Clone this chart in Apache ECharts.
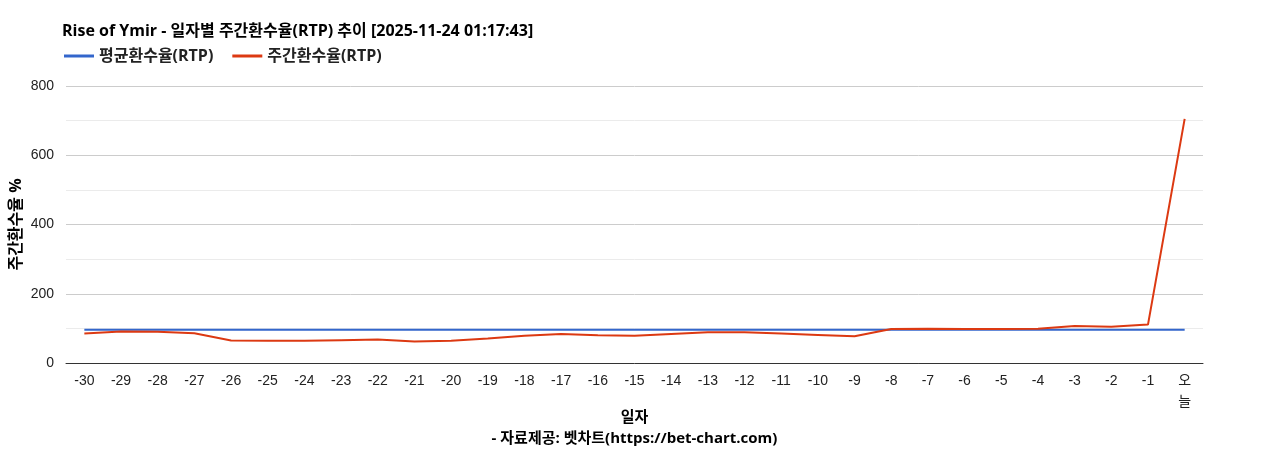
<!DOCTYPE html>
<html><head><meta charset="utf-8">
<script src="https://cdn.jsdelivr.net/npm/echarts@6/dist/echarts.min.js"></script>
<style>html,body{margin:0;padding:0;background:#fff}#c{width:1268px;height:450px}</style>
</head><body><div id="c"></div>
<script>
const categories = ['-30','-29','-28','-27','-26','-25','-24','-23','-22','-21','-20','-19','-18','-17','-16','-15','-14','-13','-12','-11','-10','-9','-8','-7','-6','-5','-4','-3','-2','-1','오\n늘'];
const avgRtp = [96,96,96,96,96,96,96,96,96,96,96,96,96,96,96,96,96,96,96,96,96,96,96,96,96,96,96,96,96,96,96];
const weeklyRtp = [85,91,90,86,65,64,64,66,68,62,64,71,79,84,80,79,84,89,89,85,81,77,98,99,98,98,99,107,105,111,705];
const yTicks = [0,200,400,600,800];
const boldFont = '"Open Sans", "Noto Sans CJK KR", sans-serif';
const labelFont = 'Arial, "Liberation Sans", "Noto Sans CJK KR", sans-serif';
const chart = echarts.init(document.getElementById('c'));
chart.setOption({
  animation:false,
  title:{text:'Rise of Ymir - 일자별 주간환수율(RTP) 추이 [2025-11-24 01:17:43]',left:57,top:18,
    textStyle:{fontSize:16,fontWeight:'bold',color:'#000',fontFamily:boldFont}},
  legend:{left:59,top:43,itemWidth:30,itemHeight:3,icon:'rect',itemGap:19,
    textStyle:{fontSize:16,fontWeight:'bold',color:'#222',fontFamily:boldFont},
    data:['평균환수율(RTP)','주간환수율(RTP)']},
  grid:{left:66,right:65,top:86,bottom:87,containLabel:false,outerBoundsMode:'none'},
  xAxis:{type:'category',data:categories,boundaryGap:true,
    name:'일자\n- 자료제공: 벳차트(https://bet-chart.com)',nameLocation:'middle',nameGap:44,nameMoveOverlap:false,
    nameTextStyle:{fontSize:15,fontWeight:'bold',color:'#000',lineHeight:21,fontFamily:boldFont,verticalAlign:'top'},
    axisLine:{lineStyle:{color:'#333'}},axisTick:{show:false},
    axisLabel:{interval:0,fontSize:14,color:'#222',margin:8,lineHeight:21,fontFamily:labelFont}},
  yAxis:{type:'value',min:0,max:800,interval:100,
    name:'주간환수율 %',nameLocation:'middle',nameGap:42,nameRotate:90,nameMoveOverlap:false,
    nameTextStyle:{fontSize:16,fontWeight:'bold',color:'#000',fontFamily:boldFont},
    axisLine:{show:false},axisTick:{show:false},
    axisLabel:{fontSize:14,color:'#222',margin:12,fontFamily:labelFont,
      formatter:v=>yTicks.includes(v)?String(v):''},
    splitLine:{lineStyle:{color:['#ccc','#ebebeb']}}},
  series:[
    {name:'평균환수율(RTP)',type:'line',data:avgRtp,symbol:'none',color:'#3366cc',lineStyle:{width:2}},
    {name:'주간환수율(RTP)',type:'line',data:weeklyRtp,symbol:'none',color:'#dc3912',lineStyle:{width:2}}
  ]
});
</script></body></html>
